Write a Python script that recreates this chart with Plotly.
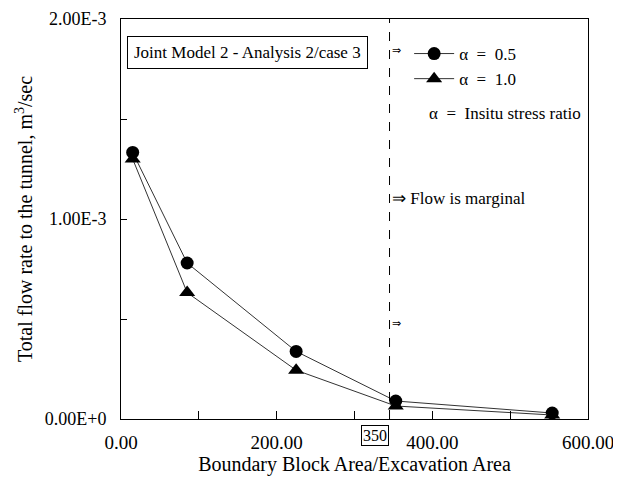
import plotly.graph_objects as go

# Data
x_a05 = [15, 85, 225, 353, 554]
y_a05 = [1.333e-3, 0.78e-3, 0.338e-3, 0.09e-3, 0.03e-3]
x_a10 = [15, 85, 225, 353, 554]
y_a10 = [1.30e-3, 0.632e-3, 0.244e-3, 0.065e-3, 0.02e-3]

x_tickvals = [0, 100, 200, 300, 400, 500, 600]
x_ticktext = ["0.00", " ", "200.00", " ", "400.00", " ", "600.00"]
y_tickvals = [0, 0.5e-3, 1.0e-3, 1.5e-3, 2.0e-3]
y_ticktext = ["0.00E+0", " ", "1.00E-3", " ", "2.00E-3"]
marginal_x = 345  # vertical dashed marker labelled 350

FONT = "Liberation Serif"

fig = go.Figure()
fig.add_trace(go.Scatter(
    x=x_a05, y=y_a05, mode="lines+markers", name="\u03b1  =  0.5",
    line=dict(color="#333333", width=1),
    marker=dict(symbol="circle", size=13, color="black"),
))
fig.add_trace(go.Scatter(
    x=x_a10, y=y_a10, mode="lines+markers", name="\u03b1  =  1.0",
    line=dict(color="#333333", width=1),
    marker=dict(symbol="triangle-up", size=14, color="black"),
))

fig.add_shape(type="line", xref="x", yref="paper", x0=marginal_x, x1=marginal_x,
              y0=0, y1=1, line=dict(color="black", width=1, dash="dash"))

annots = [
    dict(x=0.013, y=0.915, xref="paper", yref="paper", text="Joint Model 2 - Analysis 2/case 3",
         showarrow=False, xanchor="left", yanchor="middle", font=dict(size=17, family=FONT, color="black"),
         bordercolor="black", borderwidth=1, borderpad=6),
    dict(x=0.575, y=0.9225, xref="paper", yref="paper", text="\u21d2",
         showarrow=False, xanchor="left", yanchor="middle", font=dict(size=11, color="black")),
    dict(x=0.655, y=0.765, xref="paper", yref="paper", text="\u03b1  =  Insitu stress ratio",
         showarrow=False, xanchor="left", yanchor="middle", font=dict(size=17, family=FONT, color="black")),
    dict(x=0.575, y=0.55, xref="paper", yref="paper", text="\u21d2 Flow is marginal",
         showarrow=False, xanchor="left", yanchor="middle", font=dict(size=17, family=FONT, color="black")),
    dict(x=0.575, y=0.24, xref="paper", yref="paper", text="\u21d2",
         showarrow=False, xanchor="left", yanchor="middle", font=dict(size=11, color="black")),
    dict(x=326, y=-0.04, xref="x", yref="paper", text="350",
         showarrow=False, xanchor="center", yanchor="middle",
         font=dict(size=16, family=FONT, color="black"),
         bordercolor="black", borderwidth=1, borderpad=1),
]
fig.update_layout(annotations=annots)

fig.update_layout(
    width=613, height=470,
    margin=dict(l=113, r=33, t=11, b=59, autoexpand=False),
    paper_bgcolor="white", plot_bgcolor="white",
    font=dict(family=FONT, size=18, color="black"),
    showlegend=True,
    legend=dict(x=0.617, y=0.9575, xanchor="left", yanchor="top",
                bgcolor="rgba(0,0,0,0)", font=dict(size=17, family=FONT),
                itemwidth=40),
    xaxis=dict(range=[0, 600], tickvals=x_tickvals, ticktext=x_ticktext,
               ticks="inside", ticklen=8, tickcolor="black",
               showline=True, linecolor="black", linewidth=1, mirror=True,
               showgrid=False, zeroline=False, ticklabelstandoff=6,
               ticklabeloverflow="allow", automargin=False,
               title=dict(text="Boundary Block Area/Excavation Area", font=dict(size=20), standoff=2),
               tickfont=dict(size=19)),
    yaxis=dict(range=[0, 2.0e-3], tickvals=y_tickvals, ticktext=y_ticktext,
               ticks="inside", ticklen=6, tickcolor="black",
               showline=True, linecolor="black", linewidth=1, mirror=True,
               showgrid=False, zeroline=False, ticklabelstandoff=10,
               ticklabeloverflow="allow", automargin=False,
               title=dict(text="Total flow rate to the tunnel, m<sup>3</sup>/sec", font=dict(size=20), standoff=6),
               tickfont=dict(size=18)),
)

fig.write_html("out.html")
